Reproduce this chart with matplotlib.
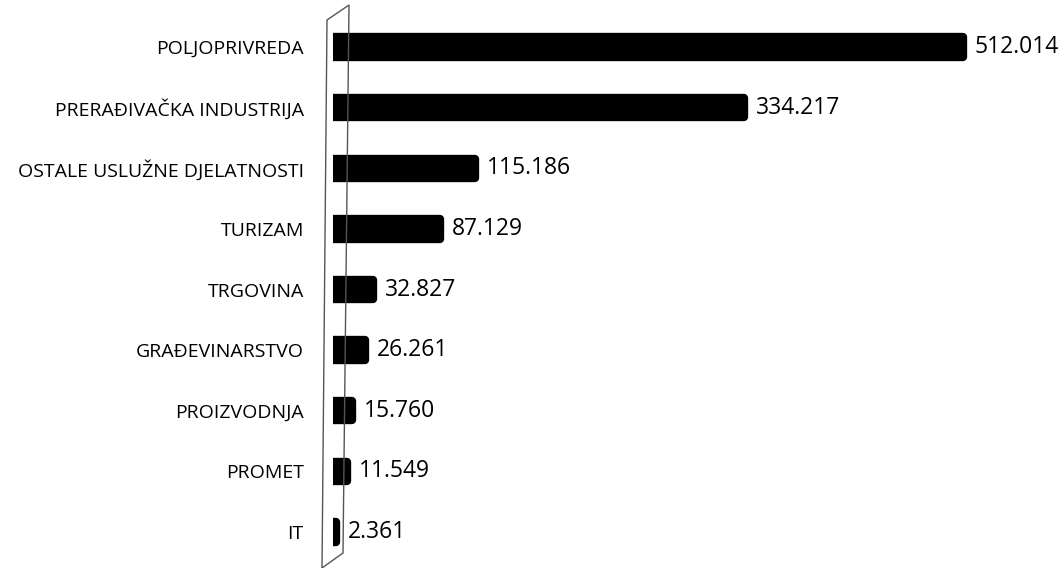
import matplotlib.pyplot as plt
from matplotlib.patches import Polygon

categories = ["POLJOPRIVREDA", "PRERAĐIVAČKA INDUSTRIJA", "OSTALE USLUŽNE DJELATNOSTI",
              "TURIZAM", "TRGOVINA", "GRAĐEVINARSTVO", "PROIZVODNJA", "PROMET", "IT"]
values = [512.014, 334.217, 115.186, 87.129, 32.827, 26.261, 15.760, 11.549, 2.361]
value_labels = ["512.014", "334.217", "115.186", "87.129", "32.827",
                "26.261", "15.760", "11.549", "2.361"]

plt.rcParams["font.family"] = ["Open Sans", "DejaVu Sans"]

W, H = 1064, 568
fig = plt.figure(figsize=(W / 100, H / 100), dpi=100)

# axes from x=333px to right edge, full height
ax = fig.add_axes([333 / W, 0, 1 - 333 / W, 1])
px_per_unit = 630 / 512.014
ax.set_xlim(0, (W - 333) / px_per_unit)
row = 60.6
ax.set_ylim(8 + (H - 532) / row, -47 / row)

pos = list(range(len(categories)))
ax.barh(pos, values, height=0.32, color="black", edgecolor="black",
        linewidth=6, joinstyle="round", zorder=3)

for p, v, t in zip(pos, values, value_labels):
    ax.text(v + 12 / px_per_unit, p, t, va="center", ha="left", fontsize=16.5, zorder=4)

ax.set_yticks(pos)
ax.set_yticklabels(categories, fontsize=14)
ax.tick_params(axis="y", length=0, pad=21)
ax.set_xticks([])
for s in ax.spines.values():
    s.set_visible(False)

# slanted back wall
wall = [(327, 20), (349, 5), (343, 553), (322, 568)]
fig.patches.append(Polygon([(x / W, 1 - y / H) for x, y in wall], closed=True,
                           fill=False, edgecolor="#555555", linewidth=1,
                           transform=fig.transFigure, figure=fig))

fig.savefig("out.png", dpi=100)
